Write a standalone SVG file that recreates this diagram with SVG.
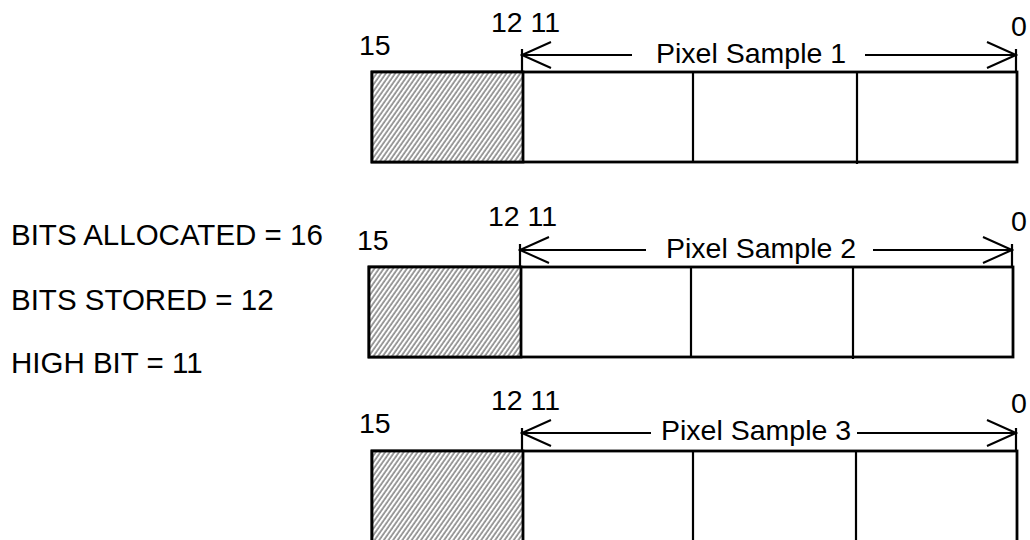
<svg xmlns="http://www.w3.org/2000/svg" width="1030" height="540" viewBox="0 0 1030 540">
<style>
text{font-family:"Liberation Sans",Arial,sans-serif;font-size:28.5px;fill:#000}
.leg{font-size:29.5px}
.lab{font-size:28.5px}
.box{fill:#fff;stroke:#000;stroke-width:2.8}
.hat{fill:url(#hatch);stroke:#000;stroke-width:2.8}
.div{stroke:#000;stroke-width:2.2}
.arr{stroke:#000;stroke-width:2;fill:none;marker-end:url(#vhead)}
.tick{stroke:#000;stroke-width:2.2}
</style>
<defs>
<pattern id="hatch" patternUnits="userSpaceOnUse" width="3.8" height="10" patternTransform="rotate(35)">
<rect width="3.8" height="10" fill="#fff"/>
<line x1="1" y1="0" x2="1" y2="10" stroke="#222" stroke-width="0.9"/>
</pattern>
<marker id="vhead" markerUnits="userSpaceOnUse" viewBox="-31 -16 33 32" refX="0" refY="0" markerWidth="33" markerHeight="32" orient="auto">
<path d="M -29 -13 L 0 0 L -29 13" fill="none" stroke="#000" stroke-width="2"/>
</marker>
</defs>
<rect width="1030" height="540" fill="#fff"/>
<g id="legend">
<text class="leg" x="11" y="245">BITS ALLOCATED = 16</text>
<text class="leg" x="11" y="310">BITS STORED = 12</text>
<text class="leg" x="11" y="373">HIGH BIT = 11</text>
</g>
<g id="word1">
<rect class="box" x="372" y="72" width="645" height="90"/>
<rect class="hat" x="372" y="72" width="151" height="90"/>
<line class="div" x1="693" y1="72" x2="693" y2="162"/>
<line class="div" x1="857" y1="72" x2="857" y2="164"/>
<text x="359" y="55">15</text>
<text x="491" y="32">12 11</text>
<text x="1011" y="36">0</text>
<text class="lab" x="656" y="63">Pixel Sample 1</text>
</g>
<g id="word2">
<rect class="box" x="369" y="267" width="644" height="90"/>
<rect class="hat" x="369" y="267" width="152" height="90"/>
<line class="div" x1="691" y1="267" x2="691" y2="357"/>
<line class="div" x1="853" y1="267" x2="853" y2="359"/>
<text x="357" y="250">15</text>
<text x="488" y="226">12 11</text>
<text x="1011" y="231">0</text>
<text class="lab" x="666" y="258">Pixel Sample 2</text>
</g>
<g id="word3">
<rect class="box" x="372" y="451" width="645" height="95"/>
<rect class="hat" x="372" y="451" width="151" height="95"/>
<line class="div" x1="693" y1="451" x2="693" y2="546"/>
<line class="div" x1="856" y1="451" x2="856" y2="546"/>
<text x="359" y="433">15</text>
<text x="491" y="410">12 11</text>
<text x="1011" y="413">0</text>
<text class="lab" x="661" y="440">Pixel Sample 3</text>
</g>
<g id="connectors">
<line class="tick" x1="522" y1="49" x2="522" y2="72"/>
<line class="tick" x1="1016" y1="49" x2="1016" y2="72"/>
<path class="arr" d="M 632 55 L 522 55"/>
<path class="arr" d="M 865 55 L 1016 55"/>
<line class="tick" x1="520" y1="244" x2="520" y2="267"/>
<line class="tick" x1="1012" y1="244" x2="1012" y2="267"/>
<path class="arr" d="M 646 250 L 520 250"/>
<path class="arr" d="M 873 250 L 1012 250"/>
<line class="tick" x1="522" y1="428" x2="522" y2="451"/>
<line class="tick" x1="1016" y1="428" x2="1016" y2="451"/>
<path class="arr" d="M 651 433 L 522 433"/>
<path class="arr" d="M 857 433 L 1016 433"/>
</g>
</svg>
